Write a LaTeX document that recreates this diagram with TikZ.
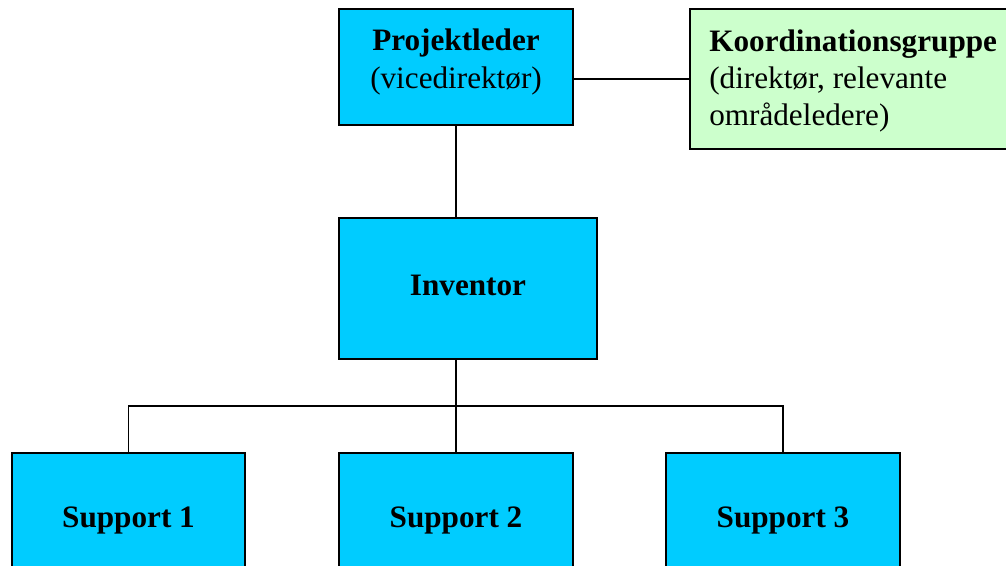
\documentclass[tikz,border=0pt]{standalone}
\usepackage{fontspec}
\setmainfont{Liberation Serif}
\definecolor{boxcyan}{HTML}{00CCFF}
\definecolor{boxgreen}{HTML}{CCFFCC}
\tikzset{
  box/.style={draw=black, line width=1.3pt, fill=#1, inner sep=0pt},
  box/.default=boxcyan,
  txt/.style={inner sep=0pt, font=\fontsize{23.4}{28}\selectfont, align=center},
  conn/.style={draw=black, line width=1.1pt},
}
\begin{document}
\begin{tikzpicture}[x=0.75pt,y=-0.75pt]
\useasboundingbox (0,0) rectangle (1006,565);
\clip (0,0) rectangle (1006,565);
\fill[white] (0,0) rectangle (1006,565);
% boxes
\node[box, minimum width=175.5pt, minimum height=87pt] (pl) at (456,67) {};
\node[box=boxgreen, minimum width=241.5pt, minimum height=105pt] (kg) at (851,79) {};
\node[box, minimum width=193.5pt, minimum height=105.75pt] (inv) at (468,288.5) {};
\node[box, minimum width=174.75pt, minimum height=93pt] (s1) at (128.5,515) {};
\node[box, minimum width=175.5pt, minimum height=93pt] (s2) at (456,515) {};
\node[box, minimum width=175.5pt, minimum height=93pt] (s3) at (783,515) {};
% texts
\node[txt] (plt) at (456,62) {\textbf{Projektleder}\\(vicedirektør)};
\node[txt, align=left, anchor=west] (kgt) at (709,81) {\textbf{Koordinationsgruppe}\\(direktør, relevante\\områdeledere)};
\node[txt] (invt) at (468,285) {\textbf{Inventor}};
\node[txt] (s1t) at (128.5,520) {\textbf{Support 1}};
\node[txt] (s2t) at (456,520) {\textbf{Support 2}};
\node[txt] (s3t) at (783,520) {\textbf{Support 3}};
% connectors
\draw[conn] (kg.west) -- (kg.west -| pl.east);
\draw[conn] (pl.south) -- (inv.north -| pl.south);
\draw[conn] (inv.south -| s2.north) -- (s2.north);
\draw[conn] (s1.north) -- ++(0,-46) coordinate (jl) -| (s3.north);
\end{tikzpicture}
\end{document}
